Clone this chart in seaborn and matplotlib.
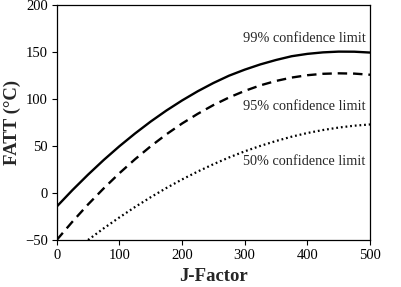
import numpy as np
import pandas as pd
import matplotlib
matplotlib.use("Agg")
import matplotlib.pyplot as plt
import seaborn as sns

# J-Factor grid (values at every 25)
j_factor = [0, 25, 50, 75, 100, 125, 150, 175, 200, 225, 250,
            275, 300, 325, 350, 375, 400, 425, 450, 475, 500]

# FATT (deg C) for the three confidence limits
fatt_99 = [-14.5, 3.0, 19.5, 35.1, 49.7, 63.3, 76.0, 87.7, 98.4, 108.2, 117.0,
           124.8, 131.2, 136.8, 141.5, 145.5, 148.0, 149.6, 150.4, 150.3, 149.4]
fatt_95 = [-50.0, -30.6, -12.2, 4.9, 21.0, 35.9, 49.7, 62.4, 73.9, 84.2, 93.5,
           101.6, 108.6, 114.5, 119.2, 122.8, 125.3, 126.8, 127.3, 127.0, 125.8]
j_factor_50 = [50, 75, 100, 125, 150, 175, 200, 225, 250,
               275, 300, 325, 350, 375, 400, 425, 450, 475, 500]
fatt_50 = [-50.0, -37.6, -26.0, -14.9, -4.5, 5.3, 14.4, 22.8, 30.6,
           37.8, 44.3, 50.1, 55.3, 59.9, 63.8, 67.0, 69.6, 71.6, 72.9]

labels = ["99% confidence limit", "95% confidence limit", "50% confidence limit"]

sns.set_style("white")
plt.rcParams['font.family'] = ['Liberation Serif', 'DejaVu Serif']

fig = plt.figure(figsize=(4.01, 2.87), dpi=100)
ax = fig.add_axes([0.1414, 0.1638, 0.7813, 0.8188])

df99 = pd.DataFrame({'J': j_factor, 'FATT': fatt_99})
df95 = pd.DataFrame({'J': j_factor, 'FATT': fatt_95})
df50 = pd.DataFrame({'J': j_factor_50, 'FATT': fatt_50})

sns.lineplot(data=df99, x='J', y='FATT', ax=ax, color='black', lw=1.7)
sns.lineplot(data=df95, x='J', y='FATT', ax=ax, color='black', lw=1.7,
             linestyle=(0, (4, 2.5)))
sns.lineplot(data=df50, x='J', y='FATT', ax=ax, color='black', lw=1.6,
             linestyle=(0, (0.8, 1.3)))

ax.set_xlim(0, 500)
ax.set_ylim(-50, 200)
ax.set_xticks([0, 100, 200, 300, 400, 500])
ax.set_yticks([-50, 0, 50, 100, 150, 200])
ax.tick_params(axis='both', direction='out', length=3.5, width=0.8,
               labelsize=10.5, colors='black', pad=3, left=True, bottom=True)
for sp in ax.spines.values():
    sp.set_color('black')
    sp.set_linewidth(0.9)

ax.set_xlabel('J-Factor', fontsize=13.5, fontweight='bold', labelpad=4)
ax.set_ylabel('FATT (\u00b0C)', fontsize=13.5, fontweight='bold', labelpad=3)

# curve labels
ax.text(493, 164.6, labels[0], ha='right', va='center', fontsize=10.3)
ax.text(493, 91.5, labels[1], ha='right', va='center', fontsize=10.3)
ax.text(493, 33, labels[2], ha='right', va='center', fontsize=10.3)

fig.savefig('out.png', dpi=100)
